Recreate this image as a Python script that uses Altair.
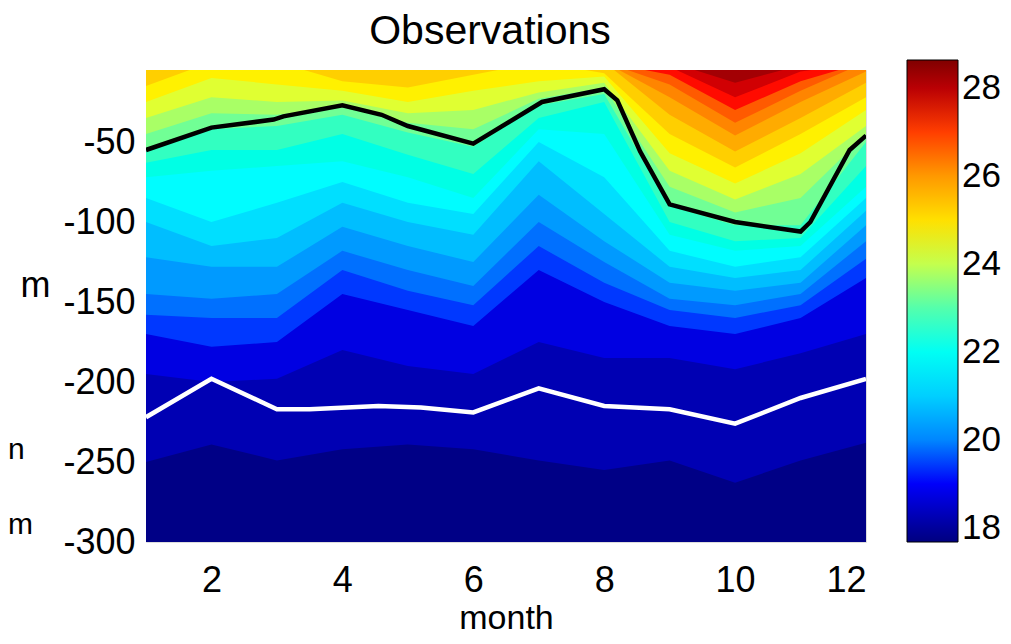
import altair as alt
import pandas as pd

FONT = "Liberation Sans"

# ---------------- data ----------------
months = [1, 2, 3, 4, 5, 6, 7, 8, 9, 10, 11, 12]

# lower bound (deg C) of each filled temperature band
levels = [17.5, 18.0, 18.5, 19.0, 19.5, 20.0, 20.5, 21.0, 21.5, 22.0, 22.5,
          23.0, 23.5, 24.0, 24.5, 25.0, 25.5, 26.0, 26.5, 27.0, 27.5, 28.0, 28.5]

# depth (m) of each isotherm per month (0 = isotherm absent / at surface)
iso_17_5 = [-300, -300, -300, -300, -300, -300, -300, -300, -300, -300, -300, -300]
iso_18_0 = [-250, -239, -249, -242, -239, -242, -249, -255, -249, -263, -249, -238]
iso_18_5 = [-195, -200, -198, -180, -190, -195, -175, -185, -185, -192, -182, -170]
iso_19_0 = [-170, -178, -175, -145, -155, -165, -130, -150, -165, -170, -160, -135]
iso_19_5 = [-158, -160, -160, -130, -143, -152, -115, -138, -155, -160, -152, -123]
iso_20_0 = [-145, -148, -145, -118, -130, -140, -100, -125, -148, -152, -145, -112]
iso_20_5 = [-122, -128, -128, -103, -115, -125, -83, -112, -138, -143, -138, -102]
iso_21_0 = [-100, -115, -110, -88, -100, -108, -62, -95, -128, -135, -130, -93]
iso_21_5 = [-85, -100, -88, -75, -88, -95, -50, -72, -118, -128, -122, -85]
iso_22_0 = [-72, -68, -65, -62, -72, -85, -42, -45, -108, -118, -115, -78]
iso_22_5 = [-63, -55, -55, -45, -58, -70, -35, -25, -100, -112, -110, -65]
iso_23_0 = [-55, -42, -40, -33, -44, -53, -27, -20, -90, -102, -102, -50]
iso_23_5 = [-45, -32, -33, -28, -38, -42, -23, -16, -78, -94, -85, -45]
iso_24_0 = [-35, -22, -25, -24, -32, -30, -19, -13, -68, -86, -70, -40]
iso_24_5 = [-25, -10, -14, -18, -25, -18, -12, -9, -57, -76, -57, -30]
iso_25_0 = [-15, 0, 0, -12, -16, -8, 0, -7, -45, -66, -45, -22]
iso_25_5 = [0, 0, 0, 0, 0, 0, 0, 0, -33, -56, -35, -13]
iso_26_0 = [0, 0, 0, 0, 0, 0, 0, 0, -22, -46, -25, -6]
iso_26_5 = [0, 0, 0, 0, 0, 0, 0, 0, -14, -38, -18, 0]
iso_27_0 = [0, 0, 0, 0, 0, 0, 0, 0, -8, -30, -12, 0]
iso_27_5 = [0, 0, 0, 0, 0, 0, 0, 0, -3, -22, -6, 0]
iso_28_0 = [0, 0, 0, 0, 0, 0, 0, 0, 0, -13, -2, 0]
iso_28_5 = [0, 0, 0, 0, 0, 0, 0, 0, 0, -5, 0, 0]

# black line
black_month = [1, 2, 2.95, 3.1, 4, 4.6, 5, 6, 7.05, 8, 8.2, 8.55, 9, 10, 11, 11.15, 11.75, 12]
black_depth = [-55, -41, -36, -34, -27, -33, -40, -51, -25, -17, -24, -56, -89, -100, -106, -100, -55, -46]

# white line
white_month = [1, 2, 3, 3.5, 4.55, 5.2, 6, 7, 8, 9, 10, 11, 12]
white_depth = [-222, -198, -217, -217, -215, -216, -219, -204, -215, -217, -226, -210, -198]

x_ticks = [2, 4, 6, 8, 10, 12]
y_ticks = [-50, -100, -150, -200, -250, -300]
cbar_ticks = [18, 20, 22, 24, 26, 28]

# jet colormap stops
jet_domain = [17.68, 19.05, 21.79, 24.53, 27.27, 28.64]
jet_range = ["#000080", "#0000ff", "#00ffff", "#ffff00", "#ff0000", "#800000"]

# ---------------- build table ----------------
iso_all = [iso_17_5, iso_18_0, iso_18_5, iso_19_0, iso_19_5, iso_20_0, iso_20_5,
           iso_21_0, iso_21_5, iso_22_0, iso_22_5, iso_23_0, iso_23_5, iso_24_0,
           iso_24_5, iso_25_0, iso_25_5, iso_26_0, iso_26_5, iso_27_0, iso_27_5,
           iso_28_0, iso_28_5]
rows = []
for lev, depths in zip(levels, iso_all):
    for m, d in zip(months, depths):
        rows.append({"month": m, "depth": d, "top": 0, "level": lev, "band": lev + 0.25})
df = pd.DataFrame(rows)

black_df = pd.DataFrame({"month": black_month, "depth": black_depth})
white_df = pd.DataFrame({"month": white_month, "depth": white_depth})

xscale = alt.Scale(domain=[1, 12], nice=False, zero=False)
yscale = alt.Scale(domain=[-300, -5], nice=False, zero=False)
cscale = alt.Scale(domain=jet_domain, range=jet_range, clamp=True)

x_axis = alt.Axis(values=x_ticks, title="month", labelFontSize=36, titleFontSize=34,
                  labelFont=FONT, titleFont=FONT, titleFontWeight="normal",
                  labelExpr="'' + datum.value",
                  ticks=False, domain=False, grid=False, labelPadding=21,
                  titlePadding=3, labelColor="black", titleColor="black")
y_axis = alt.Axis(values=y_ticks, title="m", labelFontSize=36, titleFontSize=36,
                  labelFont=FONT, titleFont=FONT, titleFontWeight="normal",
                  labelExpr="'' + datum.value",
                  ticks=False, domain=False, grid=False, labelPadding=11,
                  titleAngle=0, titleX=-111, titleY=215, titleAlign="center",
                  titleBaseline="middle", labelColor="black", titleColor="black")
legend = alt.Legend(title=None, orient="none", legendX=761, legendY=-10,
                    direction="vertical", gradientLength=482, gradientThickness=51,
                    gradientStrokeColor="black", gradientStrokeWidth=1,
                    values=cbar_ticks, labelFontSize=35, labelFont=FONT,
                    labelExpr="'' + datum.value",
                    labelOffset=4, labelColor="black", labelOverlap=False)

layers = []
for lev in levels:
    layers.append(
        alt.Chart(df)
        .transform_filter(alt.datum.level == lev)
        .mark_area(orient="vertical", clip=True, interpolate="linear")
        .encode(
            x=alt.X("month:Q", scale=xscale, axis=x_axis),
            y=alt.Y("depth:Q", scale=yscale, axis=y_axis, stack=None),
            y2=alt.Y2("top:Q"),
            color=alt.Color("band:Q", scale=cscale, legend=legend),
        )
    )

black = alt.Chart(black_df).mark_line(color="black", strokeWidth=4.5, clip=True).encode(
    x=alt.X("month:Q", scale=xscale), y=alt.Y("depth:Q", scale=yscale))
white = alt.Chart(white_df).mark_line(color="white", strokeWidth=4.5, clip=True).encode(
    x=alt.X("month:Q", scale=xscale), y=alt.Y("depth:Q", scale=yscale))

frag_n = alt.Chart(pd.DataFrame({"t": ["n"]})).mark_text(
    align="left", baseline="middle", fontSize=30, font=FONT, color="black"
).encode(x=alt.value(-138), y=alt.value(380), text="t:N")
frag_m = alt.Chart(pd.DataFrame({"t": ["m"]})).mark_text(
    align="left", baseline="middle", fontSize=30, font=FONT, color="black"
).encode(x=alt.value(-138), y=alt.value(455), text="t:N")

chart = alt.layer(*layers, black, white, frag_n, frag_m).properties(
    width=720, height=472,
    title=alt.TitleParams("Observations", fontSize=41, font=FONT, fontWeight="normal",
                          anchor="middle", dx=-16, offset=7, frame="group",
                          color="black"),
    autosize=alt.AutoSizeParams(type="none"),
    padding={"left": 138, "top": 62, "right": 137, "bottom": 94},
).configure_view(stroke="black", strokeWidth=1).configure(background="white")

chart.save("out.html", embed_options={"renderer": "svg", "actions": False})
